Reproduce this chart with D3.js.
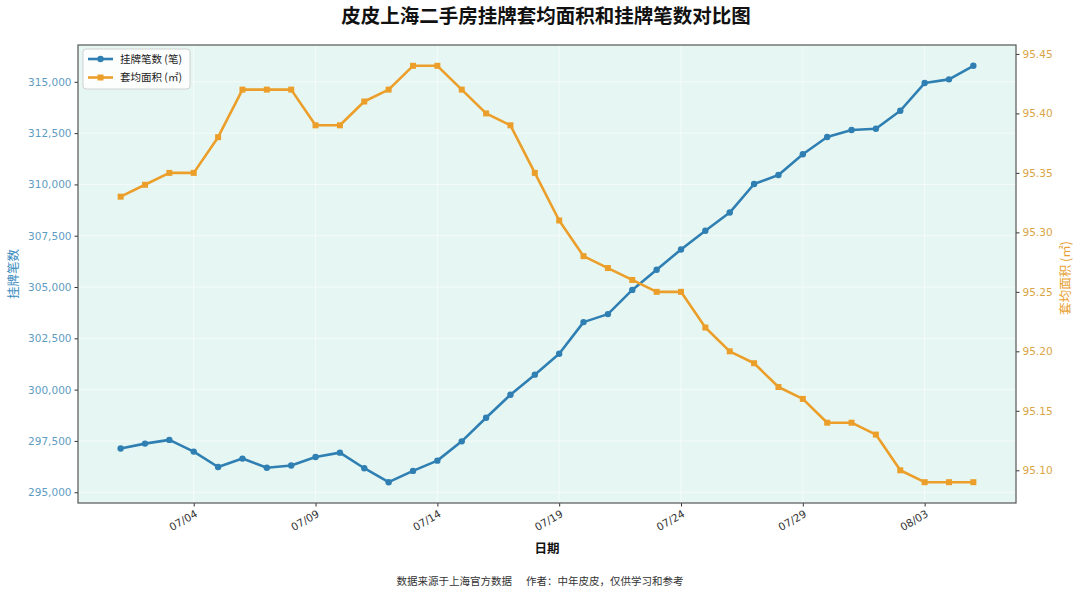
<!DOCTYPE html>
<html>
<head>
<meta charset="utf-8">
<script src="https://cdn.jsdelivr.net/npm/d3@7"></script>
<style>
  body { margin: 0; background: #fff; }
  svg text { font-family: "DejaVu Sans", "Noto Sans CJK SC", sans-serif; }
  .cjk { font-family: "Noto Sans CJK SC", "DejaVu Sans", sans-serif; }
</style>
</head>
<body>
<div id="chart"></div>
<script>
// 数据 ///////////////////////////////////////////////////////////////
const dates = [
  '07/01','07/02','07/03','07/04','07/05','07/06','07/07','07/08','07/09','07/10',
  '07/11','07/12','07/13','07/14','07/15','07/16','07/17','07/18','07/19','07/20',
  '07/21','07/22','07/23','07/24','07/25','07/26','07/27','07/28','07/29','07/30',
  '07/31','08/01','08/02','08/03','08/04','08/05'
];
const listings = [
  297130, 297370, 297550, 296980, 296230, 296640, 296190, 296300, 296720, 296930,
  296170, 295490, 296040, 296540, 297480, 298630, 299750, 300730, 301750, 303290,
  303680, 304860, 305840, 306830, 307740, 308630, 310020, 310460, 311470, 312310,
  312650, 312710, 313590, 314940, 315120, 315780
];
const avgArea = [
  95.33, 95.34, 95.35, 95.35, 95.38, 95.42, 95.42, 95.42, 95.39, 95.39,
  95.41, 95.42, 95.44, 95.44, 95.42, 95.40, 95.39, 95.35, 95.31, 95.28,
  95.27, 95.26, 95.25, 95.25, 95.22, 95.20, 95.19, 95.17, 95.16, 95.14,
  95.14, 95.13, 95.10, 95.09, 95.09, 95.09
];
const xTicks = ['07/04', '07/09', '07/14', '07/19', '07/24', '07/29', '08/03'];
const leftTicks = [295000, 297500, 300000, 302500, 305000, 307500, 310000, 312500, 315000];
const rightTicks = [95.10, 95.15, 95.20, 95.25, 95.30, 95.35, 95.40, 95.45];

// 布局 ///////////////////////////////////////////////////////////////
const width = 1080, height = 595;
const m = { left: 78, right: 1016, top: 45, bottom: 503 };
const blue = '#2f7fb3', orange = '#eb9f2a';

const parse = s => new Date(2025, +s.slice(0, 2) - 1, +s.slice(3));

const svg = d3.select('#chart').append('svg')
  .attr('xmlns', 'http://www.w3.org/2000/svg')
  .attr('width', width)
  .attr('height', height);

const first = parse(dates[0]), last = parse(dates[dates.length - 1]);
const pad = (last - first) * 0.05;
const x = d3.scaleTime()
  .domain([new Date(+first - pad), new Date(+last + pad)])
  .range([m.left, m.right]);

const pad5 = ext => { const r = ext[1] - ext[0]; return [ext[0] - r * 0.05, ext[1] + r * 0.05]; };
const yL = d3.scaleLinear().domain(pad5(d3.extent(listings))).range([m.bottom, m.top]);
const yR = d3.scaleLinear().domain(pad5(d3.extent(avgArea))).range([m.bottom, m.top]);

// 背景与网格 /////////////////////////////////////////////////////////
svg.append('rect')
  .attr('x', m.left).attr('y', m.top)
  .attr('width', m.right - m.left).attr('height', m.bottom - m.top)
  .attr('fill', '#e6f7f3');

const grid = svg.append('g').attr('stroke', '#ffffff').attr('stroke-opacity', 0.7).attr('stroke-width', 0.8);
grid.selectAll('line.h').data(leftTicks).join('line')
  .attr('x1', m.left).attr('x2', m.right)
  .attr('y1', d => yL(d)).attr('y2', d => yL(d));
grid.selectAll('line.v').data(xTicks).join('line')
  .attr('y1', m.top).attr('y2', m.bottom)
  .attr('x1', d => x(parse(d))).attr('x2', d => x(parse(d)));

// 坐标轴 /////////////////////////////////////////////////////////////
const xAxis = svg.append('g')
  .attr('transform', `translate(0,${m.bottom})`)
  .call(d3.axisBottom(x).tickValues(xTicks.map(parse)).tickFormat(d3.timeFormat('%m/%d')).tickSizeInner(3.5).tickSizeOuter(0));
xAxis.select('.domain').remove();
xAxis.selectAll('line').attr('stroke', '#333');
xAxis.selectAll('text')
  .attr('font-size', 10.5).attr('fill', '#333')
  .attr('text-anchor', 'end')
  .attr('dy', null).attr('y', 0)
  .attr('transform', 'translate(4,13) rotate(-30)');

const leftAxis = svg.append('g')
  .attr('transform', `translate(${m.left},0)`)
  .call(d3.axisLeft(yL).tickValues(leftTicks).tickFormat(d3.format(',')).tickSizeInner(3.5).tickSizeOuter(0));
leftAxis.select('.domain').remove();
leftAxis.selectAll('line').attr('stroke', '#333');
leftAxis.selectAll('text').attr('font-size', 10.5).attr('fill', '#5e9cc2');

const rightAxis = svg.append('g')
  .attr('transform', `translate(${m.right},0)`)
  .call(d3.axisRight(yR).tickValues(rightTicks).tickFormat(d3.format('.2f')).tickSizeInner(3.5).tickSizeOuter(0));
rightAxis.select('.domain').remove();
rightAxis.selectAll('line').attr('stroke', '#333');
rightAxis.selectAll('text').attr('font-size', 10.5).attr('fill', '#d9a545');

// 边框
svg.append('rect')
  .attr('x', m.left).attr('y', m.top)
  .attr('width', m.right - m.left).attr('height', m.bottom - m.top)
  .attr('fill', 'none').attr('stroke', '#555').attr('stroke-width', 1.2);

// 折线 ///////////////////////////////////////////////////////////////
const lineL = d3.line().x((d, i) => x(parse(dates[i]))).y(d => yL(d));
const lineR = d3.line().x((d, i) => x(parse(dates[i]))).y(d => yR(d));

svg.append('path').datum(listings)
  .attr('d', lineL).attr('fill', 'none')
  .attr('stroke', blue).attr('stroke-width', 2.6).attr('stroke-linejoin', 'round');
svg.append('g').selectAll('circle').data(listings).join('circle')
  .attr('cx', (d, i) => x(parse(dates[i]))).attr('cy', d => yL(d))
  .attr('r', 3.2).attr('fill', blue);

svg.append('path').datum(avgArea)
  .attr('d', lineR).attr('fill', 'none')
  .attr('stroke', orange).attr('stroke-width', 2.6).attr('stroke-linejoin', 'round');
svg.append('g').selectAll('rect').data(avgArea).join('rect')
  .attr('x', (d, i) => x(parse(dates[i])) - 3).attr('y', d => yR(d) - 3)
  .attr('width', 6).attr('height', 6).attr('fill', orange);

// 图例 ///////////////////////////////////////////////////////////////
const legend = svg.append('g').attr('transform', 'translate(83,49)');
legend.append('rect')
  .attr('width', 107).attr('height', 40).attr('rx', 3)
  .attr('fill', '#fff').attr('fill-opacity', 0.85)
  .attr('stroke', '#d0d0d0');
const legendItems = [
  { label: '挂牌笔数 (笔)', color: blue, shape: 'circle' },
  { label: '套均面积 (㎡)', color: orange, shape: 'square' }
];
legendItems.forEach((d, i) => {
  const g = legend.append('g').attr('transform', `translate(0,${10 + i * 18.5})`);
  g.append('line').attr('x1', 5).attr('x2', 30).attr('stroke', d.color).attr('stroke-width', 2.6);
  if (d.shape === 'circle') g.append('circle').attr('cx', 17.5).attr('r', 3.2).attr('fill', d.color);
  else g.append('rect').attr('x', 14.5).attr('y', -3).attr('width', 6).attr('height', 6).attr('fill', d.color);
  g.append('text').attr('class', 'cjk').attr('x', 37).attr('dy', '0.35em')
    .attr('font-size', 10.5).attr('fill', '#222').text(d.label);
});

// 文字 ///////////////////////////////////////////////////////////////
svg.append('text').attr('class', 'cjk')
  .attr('x', 546).attr('y', 23)
  .attr('text-anchor', 'middle').attr('font-size', 19.5).attr('font-weight', 'bold').attr('fill', '#111')
  .text('皮皮上海二手房挂牌套均面积和挂牌笔数对比图');

svg.append('text').attr('class', 'cjk')
  .attr('x', 547).attr('y', 553)
  .attr('text-anchor', 'middle').attr('font-size', 12.5).attr('font-weight', 'bold').attr('fill', '#111')
  .text('日期');

svg.append('text').attr('class', 'cjk')
  .attr('transform', 'translate(18,274) rotate(-90)')
  .attr('text-anchor', 'middle').attr('font-size', 12.5).attr('fill', '#3a8cc0')
  .text('挂牌笔数');

svg.append('text').attr('class', 'cjk')
  .attr('transform', 'translate(1070,278) rotate(-90)')
  .attr('text-anchor', 'middle').attr('font-size', 12.5).attr('fill', '#e8a030')
  .text('套均面积 (㎡)');

svg.append('text').attr('class', 'cjk')
  .attr('x', 540).attr('y', 585)
  .attr('text-anchor', 'middle').attr('font-size', 10.5).attr('fill', '#333')
  .style('white-space', 'pre')
  .text('数据来源于上海官方数据      作者：中年皮皮，仅供学习和参考');
</script>
</body>
</html>
